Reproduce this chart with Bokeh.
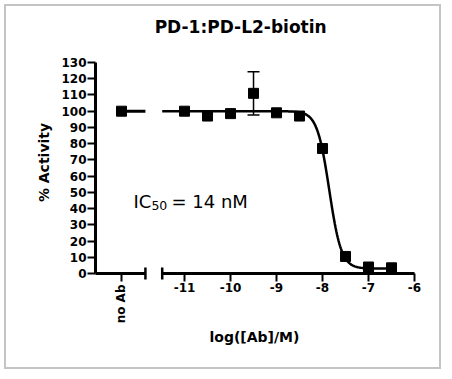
import numpy as np
from bokeh.plotting import figure
from bokeh.models import (Range1d, FixedTicker, Whisker, TeeHead, Label,
                          ColumnDataSource, LinearAxis)
from bokeh.embed import file_html
from bokeh.resources import INLINE

# ---------------- data ----------------
TITLE = "PD-1:PD-L2-biotin"
NOAB_LABEL = "no Ab"
NOAB_VALUE = 100.0
LOG_CONC = [-11.0, -10.5, -10.0, -9.5, -9.0, -8.5, -8.0, -7.5, -7.0, -6.5]
ACTIVITY = [100.0, 97.0, 98.5, 111.0, 99.0, 97.0, 77.0, 10.5, 4.0, 3.5]
ERR = [0.0, 0.0, 0.0, 13.3, 0.0, 0.0, 0.0, 0.0, 0.0, 0.0]
X_TICKS = [-11, -10, -9, -8, -7, -6]
X_TICK_LABELS = ["-11", "-10", "-9", "-8", "-7", "-6"]
Y_TICKS = list(range(0, 131, 10))
X_LABEL = "log([Ab]/M)"
Y_LABEL = "% Activity"
# 4-parameter logistic fit (IC50 = 14 nM)
FIT_TOP = 100.0
FIT_BOTTOM = 3.0
FIT_LOGIC50 = np.log10(14e-9)
FIT_HILL = 3.3

# ---------------- layout constants ----------------
NOAB_X = -12.37          # position of the "no Ab" category on the x scale
Y_AXIS_X = -12.935       # where the y axis crosses
X_START, X_END = -14.870, -5.370
Y_START, Y_END = -60.38, 164.5
BREAK_L, BREAK_R = -11.85, -11.485
CURVE_END = -6.5

BOLD = "DejaVu Sans"

p = figure(width=437, height=365, title=None,
           x_range=Range1d(X_START, X_END), y_range=Range1d(Y_START, Y_END),
           output_backend="svg", toolbar_location=None,
           min_border_left=0, min_border_right=0,
           min_border_top=0, min_border_bottom=0)
p.styles = {"border": "2px solid #c4c4c4", "margin-left": "4px", "margin-top": "4px"}
p.background_fill_color = "white"
p.border_fill_color = "white"
p.outline_line_color = None
p.grid.visible = False

# y axis (crossing at the left end of the x scale)
ya = p.yaxis[0]
ya.fixed_location = Y_AXIS_X
ya.ticker = FixedTicker(ticks=Y_TICKS)
ya.bounds = (0, 130)
ya.axis_line_width = 3
ya.major_tick_line_width = 2
ya.major_tick_out = 8
ya.major_tick_in = 0
ya.minor_tick_line_color = None
ya.major_label_standoff = 1
ya.major_label_text_font = BOLD
ya.major_label_text_font_style = "bold"
ya.major_label_text_font_size = "12px"
ya.major_label_text_color = "black"


def style_x(ax):
    ax.axis_line_color = None
    ax.major_tick_line_width = 2
    ax.major_tick_out = 8
    ax.major_tick_in = 0
    ax.minor_tick_line_color = None
    ax.major_label_text_font = BOLD
    ax.major_label_text_font_style = "bold"
    ax.major_label_text_font_size = "12px"
    ax.major_label_text_color = "black"


# x axis at y = 0 (line drawn separately because of the break)
xa = p.xaxis[0]
xa.fixed_location = 0
xa.ticker = FixedTicker(ticks=X_TICKS)
xa.major_label_overrides = {float(t): lab for t, lab in zip(X_TICKS, X_TICK_LABELS)}
style_x(xa)
xa.major_label_standoff = 2

# category axis for "no Ab" on the same baseline, label reading bottom-to-top
xa2 = LinearAxis(fixed_location=0, ticker=FixedTicker(ticks=[NOAB_X]),
                 major_label_overrides={float(NOAB_X): NOAB_LABEL},
                 major_label_orientation=np.pi / 2)
style_x(xa2)
xa2.major_label_standoff = 3
p.add_layout(xa2, "below")

# broken x-axis line segments with end caps
p.add_layout(Whisker(base=0, lower=Y_AXIS_X, upper=BREAK_L, dimension="width",
                     line_width=3, line_color="black", lower_head=None,
                     upper_head=TeeHead(size=12, line_width=2.5, line_color="black")))
p.add_layout(Whisker(base=0, lower=BREAK_R, upper=X_TICKS[-1], dimension="width",
                     line_width=3, line_color="black", upper_head=None,
                     lower_head=TeeHead(size=12, line_width=2.5, line_color="black")))


def fit(x):
    x = np.asarray(x)
    return FIT_BOTTOM + (FIT_TOP - FIT_BOTTOM) / (1 + 10 ** ((x - FIT_LOGIC50) * FIT_HILL))


# fitted curve (both sides of the break)
cx = np.linspace(BREAK_R, CURVE_END, 300)
p.line(cx, fit(cx), line_color="black", line_width=2.5)
lx = np.array([NOAB_X, BREAK_L])
p.line(lx, fit(lx), line_color="black", line_width=3)

# error bars
err_src = ColumnDataSource(dict(
    x=[x for x, e in zip(LOG_CONC, ERR) if e > 0],
    lo=[a - e for a, e in zip(ACTIVITY, ERR) if e > 0],
    hi=[a + e for a, e in zip(ACTIVITY, ERR) if e > 0]))
p.add_layout(Whisker(source=err_src, base="x", lower="lo", upper="hi",
                     dimension="height", line_width=1.5, line_color="black",
                     lower_head=TeeHead(size=12, line_width=1.5, line_color="black"),
                     upper_head=TeeHead(size=12, line_width=1.5, line_color="black")))

# data points
p.scatter(LOG_CONC, ACTIVITY, marker="square", size=10,
          fill_color="black", line_color="black")
p.scatter([NOAB_X], [NOAB_VALUE], marker="square", size=10,
          fill_color="black", line_color="black")

# title and axis titles
p.add_layout(Label(x=-9.78, y=152.0, text=TITLE, text_align="center",
                   text_baseline="alphabetic", text_font=BOLD,
                   text_font_style="bold", text_font_size="17px",
                   text_color="black"))
p.add_layout(Label(x=-9.48, y=-39.0, text=X_LABEL, text_align="center",
                   text_baseline="alphabetic", text_font=BOLD,
                   text_font_style="bold", text_font_size="14px",
                   text_color="black"))
p.add_layout(Label(x=-14.065, y=68.4, text=Y_LABEL, angle=np.pi / 2,
                   text_align="center", text_baseline="middle",
                   text_font=BOLD, text_font_style="bold",
                   text_font_size="14px", text_color="black"))

# IC50 annotation
p.add_layout(Label(x=-12.109, y=44.3, text="IC", text_align="left",
                   text_baseline="alphabetic", text_font="DejaVu Sans",
                   text_font_size="18px", text_color="black"))
p.add_layout(Label(x=-11.72, y=42.1, text="50", text_align="left",
                   text_baseline="alphabetic", text_font="DejaVu Sans",
                   text_font_size="12.5px", text_color="black"))
p.add_layout(Label(x=-11.283, y=44.3, text="= 14 nM", text_align="left",
                   text_baseline="alphabetic", text_font="DejaVu Sans",
                   text_font_size="18px", text_color="black"))

open("out.html", "w").write(file_html(p, INLINE))
